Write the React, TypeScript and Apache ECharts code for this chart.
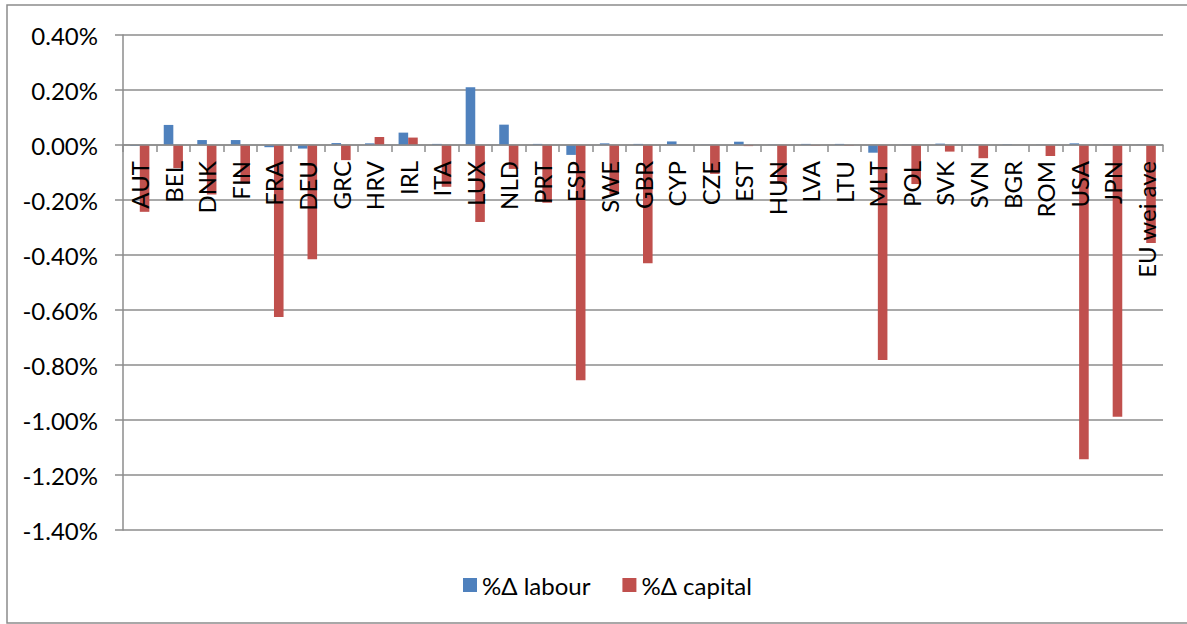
import React, { useEffect, useRef } from "react";
import * as echarts from "echarts";

// Country codes along the category axis
const categories = [
  "AUT", "BEL", "DNK", "FIN", "FRA", "DEU", "GRC", "HRV", "IRL", "ITA", "LUX",
  "NLD", "PRT", "ESP", "SWE", "GBR", "CYP", "CZE", "EST", "HUN", "LVA", "LTU",
  "MLT", "POL", "SVK", "SVN", "BGR", "ROM", "USA", "JPN", "EU wei ave",
];

// Percentage change in labour (in %)
const labour = [
  -0.003, 0.073, 0.018, 0.018, -0.008, -0.013, 0.007, 0.006, 0.045, 0.004, 0.21,
  0.074, 0.004, -0.036, 0.006, 0.004, 0.013, 0.001, 0.012, 0.001, 0.004, 0.004,
  -0.028, 0.001, 0.005, 0.002, 0.002, 0.001, 0.006, 0.001, 0.001,
];

// Percentage change in capital (in %)
const capital = [
  -0.243, -0.084, -0.18, -0.14, -0.625, -0.415, -0.055, 0.029, 0.027, -0.152, -0.28,
  -0.087, -0.21, -0.855, -0.178, -0.43, 0, -0.105, -0.004, -0.14, -0.002, -0.002,
  -0.782, -0.142, -0.024, -0.048, 0, -0.04, -1.143, -0.988, -0.356,
];

const seriesNames = ["%Δ labour", "%Δ capital"];

const Y_MIN = -1.4;
const Y_MAX = 0.4;

const FONT = "Lato, 'Open Sans', sans-serif";

const GRID_TOP = 35;
const GRID_BOTTOM = 94;
const HEIGHT = 624;

export default function App() {
  const ref = useRef<HTMLDivElement>(null);

  useEffect(() => {
    if (!ref.current) return;
    const chart = echarts.init(ref.current, undefined, { renderer: "svg" });
    // distance from the bottom of the plot up to the zero line
    const plotH = HEIGHT - GRID_TOP - GRID_BOTTOM;
    const zeroOffset = (plotH * (0 - Y_MIN)) / (Y_MAX - Y_MIN);
    chart.setOption({
      animation: false,
      backgroundColor: "#ffffff",
      textStyle: { fontFamily: FONT },
      graphic: [
        {
          type: "rect",
          shape: { x: 7, y: 5, width: 1190, height: 618 },
          style: { fill: "none", stroke: "#8c8c8c", lineWidth: 1.5 },
          silent: true,
        },
      ],
      grid: {
        left: 123,
        right: 24,
        top: GRID_TOP,
        bottom: GRID_BOTTOM,
        containLabel: false,
        outerBoundsMode: "none",
      },
      legend: {
        bottom: 22,
        left: 458,
        icon: "rect",
        itemWidth: 14,
        itemHeight: 14,
        itemGap: 32,
        textStyle: { fontFamily: FONT, fontSize: 24, color: "#000" },
        data: seriesNames,
      },
      xAxis: {
        type: "category",
        data: categories,
        z: 5,
        position: "bottom",
        offset: -zeroOffset,
        axisLine: { onZero: false, lineStyle: { color: "#8c8c8c", width: 1.5 } },
        axisTick: { show: true, length: 7, alignWithLabel: false, lineStyle: { color: "#8c8c8c", width: 1.5 } },
        axisLabel: {
          rotate: 90,
          interval: 0,
          margin: 16,
          fontFamily: FONT,
          fontSize: 24,
          color: "#000",
        },
        splitLine: { show: false },
      },
      yAxis: {
        type: "value",
        min: Y_MIN,
        max: Y_MAX,
        interval: 0.2,
        axisLine: { show: true, lineStyle: { color: "#8c8c8c", width: 1.5 } },
        axisTick: { show: true, length: 8, lineStyle: { color: "#8c8c8c", width: 1.5 } },
        axisLabel: {
          margin: 25,
          fontFamily: FONT,
          fontSize: 24,
          color: "#000",
          formatter: (v: number) => v.toFixed(2) + "%",
        },
        splitLine: { show: true, lineStyle: { color: "#8c8c8c", width: 1.5 } },
      },
      series: [
        {
          name: seriesNames[0],
          type: "bar",
          data: labour,
          itemStyle: { color: "#4F81BD" },
          barGap: "0%",
          barCategoryGap: "42.86%",
        },
        {
          name: seriesNames[1],
          type: "bar",
          data: capital,
          itemStyle: { color: "#C0504D" },
          barGap: "0%",
          barCategoryGap: "42.86%",
        },
      ],
    });
    return () => chart.dispose();
  }, []);

  return (
    <div
      ref={ref}
      style={{ position: "fixed", left: 0, top: 0, width: 1187, height: 624 }}
    />
  );
}
